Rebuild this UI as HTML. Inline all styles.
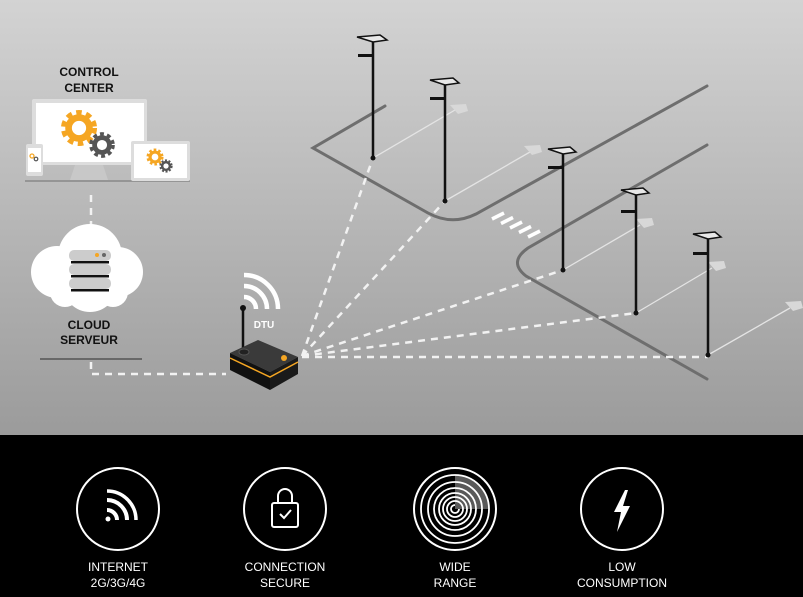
<!DOCTYPE html>
<html><head><meta charset="utf-8"><style>
html,body{margin:0;padding:0;width:803px;height:597px;overflow:hidden;font-family:"Liberation Sans",sans-serif;}
</style></head><body>
<svg width="803" height="597" viewBox="0 0 803 597" xmlns="http://www.w3.org/2000/svg">
<defs>
<linearGradient id="bg" x1="0" y1="0" x2="0" y2="1">
<stop offset="0" stop-color="#d3d3d3"/><stop offset="1" stop-color="#9b9b9b"/>
</linearGradient>
<g id="gear"><circle r="7" fill="none" stroke-width="5" stroke-dasharray="2.5 2"/><circle r="5.5" fill="none" stroke-width="3.5"/></g>
</defs>
<rect width="803" height="435" fill="url(#bg)"/>
<rect y="435" width="803" height="162" fill="#000"/>

<!-- roads -->
<g fill="none" stroke="#6e6e6e" stroke-width="3" stroke-linecap="round">
<path d="M385 106 L313 148 L428 213 Q452 226 476 214 L707 86"/>
<path d="M707 145 L528 248 Q508 262 526 276 L533 280 L707 379"/>
</g>
<!-- crosswalk -->
<g stroke="#fff" stroke-width="3.5">
<line x1="492" y1="219" x2="504" y2="213"/><line x1="501" y1="223.5" x2="513" y2="217.5"/>
<line x1="510" y1="228" x2="522" y2="222"/><line x1="519" y1="232.5" x2="531" y2="226.5"/>
<line x1="528" y1="237" x2="540" y2="231"/>
</g>
<!-- light beams -->
<g stroke="#e4e4e4" stroke-width="1.3" fill="#d8d8d8">
<line x1="373" y1="158" x2="455" y2="110"/><path d="M450 105 L466 104 L468 111 L458 114Z" stroke="none"/>
<line x1="445" y1="201" x2="530" y2="152"/><path d="M524 146 L540 145 L542 152 L532 155Z" stroke="none"/>
<line x1="563" y1="270" x2="640" y2="225"/><path d="M636 219 L652 218 L654 225 L644 228Z" stroke="none"/>
<line x1="636" y1="313" x2="712" y2="268"/><path d="M708 262 L724 261 L726 268 L716 271Z" stroke="none"/>
<line x1="708" y1="355" x2="790" y2="308"/><path d="M785 302 L801 301 L803 308 L793 311Z" stroke="none"/>
</g>
<!-- dashed links -->
<g stroke="#f2f2f2" stroke-width="2.5" stroke-dasharray="7 6" fill="none">
<line x1="302" y1="356" x2="373" y2="158"/>
<line x1="302" y1="356" x2="445" y2="201"/>
<line x1="302" y1="356" x2="563" y2="270"/>
<line x1="302" y1="356" x2="636" y2="313"/>
<line x1="302" y1="357" x2="708" y2="357"/>
<polyline points="91,362 91,374 226,374"/>
<line x1="91" y1="195" x2="91" y2="232"/>
</g>
<!-- poles -->
<g stroke="#111" stroke-width="2.5">
<line x1="373" y1="40" x2="373" y2="158"/><line x1="445" y1="83" x2="445" y2="201"/>
<line x1="563" y1="152" x2="563" y2="270"/><line x1="636" y1="193" x2="636" y2="313"/>
<line x1="708" y1="237" x2="708" y2="355"/>
</g>
<g fill="#111">
<circle cx="373" cy="158" r="2.5"/><circle cx="445" cy="201" r="2.5"/><circle cx="563" cy="270" r="2.5"/><circle cx="636" cy="313" r="2.5"/><circle cx="708" cy="355" r="2.5"/>
<rect x="358" y="54" width="14" height="3"/><rect x="430" y="97" width="14" height="3"/><rect x="548" y="166" width="14" height="3"/><rect x="621" y="210" width="14" height="3"/><rect x="693" y="252" width="14" height="3"/>
</g>
<g fill="#e8e8e8" stroke="#111" stroke-width="1.5">
<path d="M357 37 L380 35 L387 40 L373 42Z"/><path d="M430 80 L453 78 L459 83 L445 85Z"/>
<path d="M548 149 L570 147 L576 152 L563 154Z"/><path d="M621 190 L643 188 L649 193 L636 195Z"/>
<path d="M693 234 L715 232 L721 237 L708 239Z"/>
</g>

<!-- control center -->
<text x="89" y="76" font-size="12" font-weight="bold" text-anchor="middle" fill="#111">CONTROL</text>
<text x="89" y="92" font-size="12" font-weight="bold" text-anchor="middle" fill="#111">CENTER</text>
<rect x="32" y="99" width="115" height="66" fill="#ddd" rx="2"/>
<rect x="36" y="103" width="108" height="59" fill="#fff"/>
<path d="M75 165 L103 165 L108 180 L70 180Z" fill="#c8c8c8"/>
<line x1="25" y1="181" x2="190" y2="181" stroke="#888" stroke-width="1.5"/>
<g stroke="#f5a623" transform="translate(79,128) scale(1.9)"><use href="#gear"/></g>
<g stroke="#555" transform="translate(102,145) scale(1.35)"><use href="#gear"/></g>
<rect x="131" y="141" width="59" height="40" fill="#ddd" rx="2"/>
<rect x="134" y="144" width="53" height="34" fill="#fff"/>
<g stroke="#f5a623" transform="translate(155,157) scale(0.9)"><use href="#gear"/></g>
<g stroke="#555" transform="translate(166,166) scale(0.7)"><use href="#gear"/></g>
<rect x="26" y="144" width="17" height="32" fill="#ddd" rx="2"/>
<rect x="28" y="148" width="13" height="24" fill="#fff"/>
<circle cx="32" cy="156" r="2" fill="none" stroke="#f5a623" stroke-width="1.3"/><circle cx="36" cy="159" r="1.8" fill="none" stroke="#555" stroke-width="1.2"/>

<!-- cloud -->
<g fill="#fff">
<circle cx="90" cy="256" r="32"/><circle cx="57" cy="272" r="26"/><circle cx="118" cy="272" r="25"/>
<circle cx="90" cy="285" r="27"/><circle cx="65" cy="292" r="15"/><circle cx="113" cy="292" r="15"/>
</g>
<g fill="#ccc">
<rect x="69" y="250" width="42" height="11" rx="5"/><rect x="69" y="264" width="42" height="11" rx="5"/><rect x="69" y="278" width="42" height="11" rx="5"/>
</g>
<g fill="#111"><rect x="71" y="261" width="38" height="2.5"/><rect x="71" y="275" width="38" height="2.5"/><rect x="71" y="289" width="38" height="2.5"/></g>
<circle cx="97" cy="255" r="2" fill="#f5a623"/><circle cx="104" cy="255" r="2" fill="#666"/>
<text x="89" y="329" font-size="12" font-weight="bold" text-anchor="middle" fill="#111">CLOUD</text>
<text x="89" y="344" font-size="12" font-weight="bold" text-anchor="middle" fill="#111">SERVEUR</text>
<line x1="40" y1="359" x2="142" y2="359" stroke="#555" stroke-width="1.5"/>

<!-- DTU -->
<g fill="none" stroke="#fff" stroke-width="4.5">
<path d="M244 297 A12 12 0 0 1 256 309"/><path d="M244 286 A23 23 0 0 1 267 309"/><path d="M244 275 A34 34 0 0 1 278 309"/>
</g>
<text x="264" y="328" font-size="10" font-weight="bold" fill="#fff" text-anchor="middle">DTU</text>
<line x1="243" y1="308" x2="243" y2="350" stroke="#111" stroke-width="2.5"/>
<circle cx="243" cy="308" r="3" fill="#111"/>
<path d="M230 353 L258 340 L298 357 L270 372Z" fill="#3a3a3a"/>
<path d="M230 353 L270 372 L270 390 L230 370Z" fill="#111"/>
<path d="M270 372 L298 357 L298 374 L270 390Z" fill="#1a1a1a"/>
<path d="M230 358 L270 377 L298 362" fill="none" stroke="#f5a623" stroke-width="1.5"/>
<ellipse cx="244" cy="352" rx="5" ry="3" fill="#222" stroke="#555"/>
<circle cx="284" cy="358" r="3" fill="#f5a623"/>

<!-- bottom icons -->
<g fill="none" stroke="#fff" stroke-width="2">
<circle cx="118" cy="509" r="41"/><circle cx="285" cy="509" r="41"/><circle cx="455" cy="509" r="41"/><circle cx="622" cy="509" r="41"/>
</g>
<g fill="none" stroke="#fff" stroke-width="4">
<path d="M107 510 A10 10 0 0 1 117 520"/><path d="M107 500 A20 20 0 0 1 127 520"/><path d="M107 491 A29 29 0 0 1 136 520" stroke-width="3.5"/>
</g>
<circle cx="108" cy="519" r="2.5" fill="#fff"/>
<g fill="none" stroke="#fff" stroke-width="2">
<path d="M278 503 V496 A7 7 0 0 1 292 496 V503"/><rect x="272" y="503" width="26" height="24" rx="2"/>
<path d="M280 514 L284 518 L291 510"/>
</g>
<g fill="none" stroke="#fff" stroke-width="1.8">
<circle cx="455" cy="509" r="34"/><circle cx="455" cy="509" r="27"/><circle cx="455" cy="509" r="21"/><circle cx="455" cy="509" r="16"/>
<circle cx="455" cy="509" r="12"/><circle cx="455" cy="509" r="8"/><path d="M459 509 A4 4 0 1 1 455 505"/>
</g>
<path d="M455 509 L455 475 A34 34 0 0 1 489 509Z" fill="#fff" opacity="0.35"/>
<path d="M625 490 L614 512 L621 512 L617 532 L630 506 L623 506 L628 490Z" fill="#fff"/>
<g fill="#fff" font-size="12" text-anchor="middle">
<text x="118" y="571">INTERNET</text><text x="118" y="587">2G/3G/4G</text>
<text x="285" y="571">CONNECTION</text><text x="285" y="587">SECURE</text>
<text x="455" y="571">WIDE</text><text x="455" y="587">RANGE</text>
<text x="622" y="571">LOW</text><text x="622" y="587">CONSUMPTION</text>
</g>
</svg>
</body></html>
